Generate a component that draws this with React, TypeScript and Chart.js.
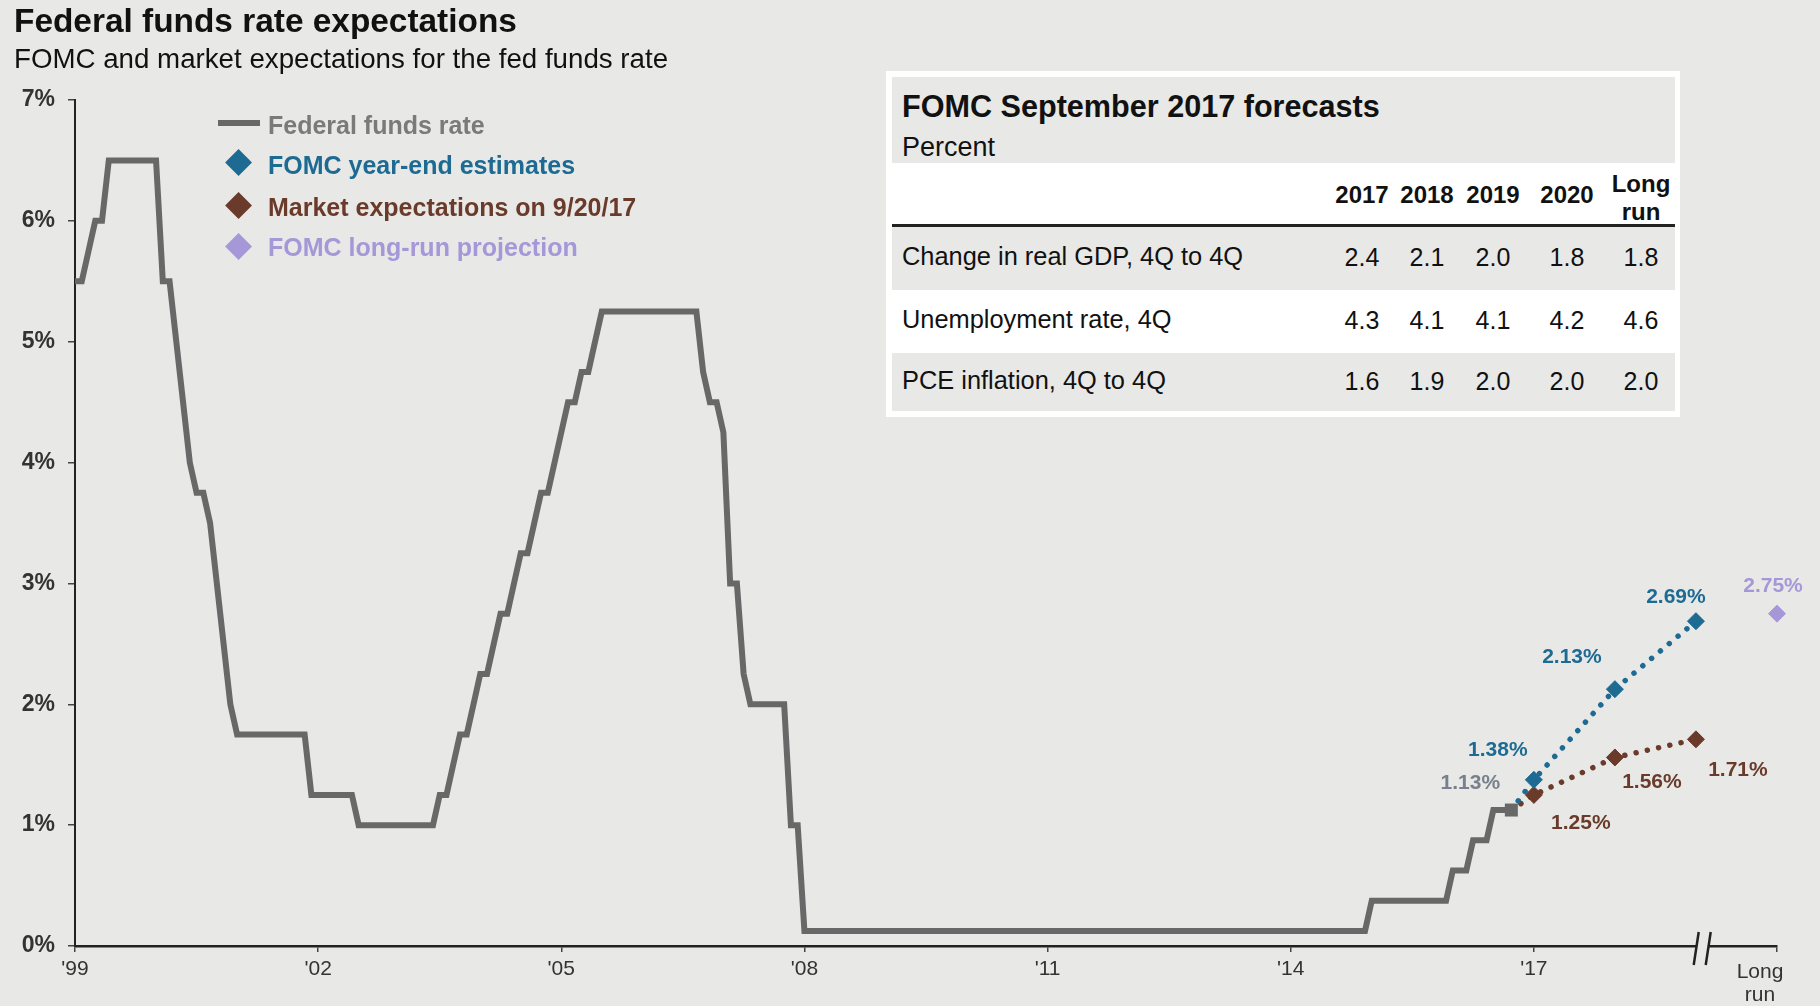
import React, { useEffect, useRef } from 'react';
import { Chart, registerables } from 'chart.js';

Chart.register(...registerables);

// ---------------- DATA ----------------
// Federal funds target rate (midpoint of range after Dec 2008), month-end observations
const ffrMonths = [
  '1999-12', '2000-01', '2000-02', '2000-03', '2000-04', '2000-05', '2000-12',
  '2001-01', '2001-02', '2001-03', '2001-04', '2001-05', '2001-06', '2001-07',
  '2001-08', '2001-09', '2001-10', '2001-11', '2001-12', '2002-10', '2002-11',
  '2003-05', '2003-06', '2004-05', '2004-06', '2004-07', '2004-08', '2004-09',
  '2004-10', '2004-11', '2004-12', '2005-01', '2005-02', '2005-03', '2005-04',
  '2005-05', '2005-06', '2005-07', '2005-08', '2005-09', '2005-10', '2005-11',
  '2005-12', '2006-01', '2006-02', '2006-03', '2006-04', '2006-05', '2006-06',
  '2007-08', '2007-09', '2007-10', '2007-11', '2007-12', '2008-01', '2008-02',
  '2008-03', '2008-04', '2008-09', '2008-10', '2008-11', '2008-12', '2015-11',
  '2015-12', '2016-11', '2016-12', '2017-02', '2017-03', '2017-05', '2017-06',
  '2017-09-20',
];
const ffrRates = [
  5.5, 5.5, 5.75, 6.0, 6.0, 6.5, 6.5,
  5.5, 5.5, 5.0, 4.5, 4.0, 3.75, 3.75,
  3.5, 3.0, 2.5, 2.0, 1.75, 1.75, 1.25,
  1.25, 1.0, 1.0, 1.25, 1.25, 1.5, 1.75,
  1.75, 2.0, 2.25, 2.25, 2.5, 2.75, 2.75,
  3.0, 3.25, 3.25, 3.5, 3.75, 3.75, 4.0,
  4.25, 4.5, 4.5, 4.75, 4.75, 5.0, 5.25,
  5.25, 4.75, 4.5, 4.5, 4.25, 3.0, 3.0,
  2.25, 2.0, 2.0, 1.0, 1.0, 0.125, 0.125,
  0.375, 0.375, 0.625, 0.625, 0.875, 0.875, 1.125,
  1.125,
];
const forecastMonths = ['2017-12', '2018-12', '2019-12'];
const fomcYearEnd = [1.375, 2.125, 2.6875];
const marketExpectations = [1.25, 1.56, 1.71];
const longRunMonth = '2020-12';
const fomcLongRun = 2.75;
const breakMonth = '2020-01';

const xTickMonths = ['1999-12', '2002-12', '2005-12', '2008-12', '2011-12', '2014-12', '2017-12', '2020-12'];
const xTickLabels = ["'99", "'02", "'05", "'08", "'11", "'14", "'17", 'Long run'];
const yMin = 0;
const yMax = 7;

const legendLabels = ['Federal funds rate', 'FOMC year-end estimates', 'Market expectations on 9/20/17', 'FOMC long-run projection'];

const tableColumns = ['2017', '2018', '2019', '2020', 'Long run'];
const tableRowLabels = ['Change in real GDP, 4Q to 4Q', 'Unemployment rate, 4Q', 'PCE inflation, 4Q to 4Q'];
const gdpChange = [2.4, 2.1, 2.0, 1.8, 1.8];
const unemploymentRate = [4.3, 4.1, 4.1, 4.2, 4.6];
const pceInflation = [1.6, 1.9, 2.0, 2.0, 2.0];

// ---------------- STYLE ----------------
const FONT = '"Liberation Sans", Arial, Helvetica, sans-serif';
const BG = '#e8e8e6';
const GRAY = '#686868';
const GRAY_TXT = '#7a7a7a';
const GRAY_LBL = '#77808c';
const BLUE = '#1d6b93';
const BROWN = '#6a3b2b';
const LAV = '#a597d8';
const AXIS = '#222';
const TICK_TXT = '#333';

const toX = (s: string) => {
  const [y, m, d] = s.split('-').map(Number);
  return y + (m - 1) / 12 + ((d === undefined ? 30 : d) / 30) / 12;
};

// label offsets (px) relative to marker centre
const fomcLabelOffsets = [[-36, -30], [-43, -32], [-20, -24]];
const marketLabelOffsets = [[47, 28], [37, 25], [42, 31]];
const longRunLabelOffset = [-4, -27];
const lastRateLabelOffset = [-41, -27];

const overlayPlugin = {
  id: 'overlay',
  afterDatasetsDraw(chart: any) {
    const { ctx } = chart;
    const xs = chart.scales.x;
    const ys = chart.scales.y;
    ctx.save();
    ctx.font = `bold 21px ${FONT}`;
    ctx.textAlign = 'center';
    ctx.textBaseline = 'middle';
    const lab = (xv: number, yv: number, off: number[], color: string) => {
      ctx.fillStyle = color;
      ctx.fillText(yv.toFixed(2) + '%', xs.getPixelForValue(xv) + off[0], ys.getPixelForValue(yv) + off[1]);
    };
    forecastMonths.forEach((m, i) => {
      lab(toX(m), fomcYearEnd[i], fomcLabelOffsets[i], BLUE);
      lab(toX(m), marketExpectations[i], marketLabelOffsets[i], BROWN);
    });
    lab(toX(longRunMonth), fomcLongRun, longRunLabelOffset, LAV);
    const li = ffrRates.length - 1;
    lab(toX(ffrMonths[li]), ffrRates[li], lastRateLabelOffset, GRAY_LBL);

    // axis break
    const bx = xs.getPixelForValue(toX(breakMonth));
    const by = ys.bottom;
    ctx.fillStyle = BG;
    ctx.fillRect(bx - 6, by - 3, 12, 6);
    ctx.strokeStyle = AXIS;
    ctx.lineWidth = 2.5;
    ctx.beginPath();
    ctx.moveTo(bx - 4, by - 14);
    ctx.lineTo(bx - 9, by + 19);
    ctx.moveTo(bx + 8, by - 14);
    ctx.lineTo(bx + 3, by + 19);
    ctx.stroke();

    // "Long run" axis label (two lines, set slightly left of its tick)
    ctx.font = `21px ${FONT}`;
    ctx.fillStyle = TICK_TXT;
    ctx.textBaseline = 'alphabetic';
    const lx = xs.getPixelForValue(toX(longRunMonth)) - 17;
    const parts = xTickLabels[xTickLabels.length - 1].split(' ');
    ctx.fillText(parts[0], lx, 978);
    ctx.fillText(parts[1], lx, 1001);
    ctx.restore();
  },
};

function T(props: { x: number; b: number; size: number; bold?: boolean; color?: string; center?: boolean; children: any }) {
  const { x, b, size, bold, color, center, children } = props;
  return (
    <div
      style={{
        position: 'absolute',
        left: x,
        top: b - 0.8465 * size,
        fontSize: size,
        lineHeight: `${size}px`,
        fontWeight: bold ? 700 : 400,
        color: color || '#111',
        whiteSpace: 'nowrap',
        fontFamily: FONT,
        transform: center ? 'translateX(-50%)' : undefined,
      }}
    >
      {children}
    </div>
  );
}

function Diamond(props: { cx: number; cy: number; w: number; color: string }) {
  const s = props.w / Math.SQRT2;
  return (
    <div
      style={{
        position: 'absolute',
        left: props.cx - s / 2,
        top: props.cy - s / 2,
        width: s,
        height: s,
        background: props.color,
        transform: 'rotate(45deg)',
      }}
    />
  );
}

export default function App() {
  const canvasRef = useRef<HTMLCanvasElement | null>(null);

  useEffect(() => {
    document.body.style.margin = '0';
    document.body.style.background = BG;
    const canvas = canvasRef.current;
    if (!canvas) return;
    const li = ffrRates.length - 1;
    const start = { x: toX(ffrMonths[li]), y: ffrRates[li] };
    const chart = new Chart(canvas, {
      type: 'line',
      data: {
        datasets: [
          {
            label: legendLabels[0],
            data: ffrMonths.map((m, i) => ({ x: toX(m), y: ffrRates[i] })),
            borderColor: GRAY,
            backgroundColor: GRAY,
            borderWidth: 6,
            tension: 0,
            pointStyle: 'rect',
            pointRadius: (c: any) => (c.dataIndex === li ? 9.2 : 0),
            pointBorderWidth: 0,
            pointBackgroundColor: GRAY,
            clip: false,
          },
          {
            label: legendLabels[1],
            data: [start, ...forecastMonths.map((m, i) => ({ x: toX(m), y: fomcYearEnd[i] }))],
            borderColor: BLUE,
            backgroundColor: BLUE,
            borderWidth: 5.5,
            borderDash: [0.01, 11.5],
            borderCapStyle: 'round',
            tension: 0,
            pointStyle: 'rectRot',
            pointRadius: [0, 8.5, 8.5, 8.5],
            pointBorderWidth: 1,
            pointBackgroundColor: BLUE,
            pointBorderColor: BLUE,
            clip: false,
          },
          {
            label: legendLabels[2],
            data: [start, ...forecastMonths.map((m, i) => ({ x: toX(m), y: marketExpectations[i] }))],
            borderColor: BROWN,
            backgroundColor: BROWN,
            borderWidth: 5.5,
            borderDash: [0.01, 11.5],
            borderCapStyle: 'round',
            tension: 0,
            pointStyle: 'rectRot',
            pointRadius: [0, 8.5, 8.5, 8.5],
            pointBorderWidth: 1,
            pointBackgroundColor: BROWN,
            pointBorderColor: BROWN,
            clip: false,
          },
          {
            label: legendLabels[3],
            data: [{ x: toX(longRunMonth), y: fomcLongRun }],
            showLine: false,
            borderColor: LAV,
            backgroundColor: LAV,
            pointStyle: 'rectRot',
            pointRadius: 8.5,
            pointBorderWidth: 1,
            pointBackgroundColor: LAV,
            pointBorderColor: LAV,
            clip: false,
          },
        ],
      },
      options: {
        animation: false,
        responsive: false,
        devicePixelRatio: 1,
        layout: { padding: { left: 0, top: 100, right: 43, bottom: 0 } },
        plugins: { legend: { display: false }, tooltip: { enabled: false } },
        scales: {
          x: {
            type: 'linear',
            min: toX(xTickMonths[0]),
            max: toX(xTickMonths[xTickMonths.length - 1]),
            afterBuildTicks: (scale: any) => {
              scale.ticks = xTickMonths.map((m) => ({ value: toX(m) }));
            },
            afterFit: (scale: any) => {
              scale.height = 60;
            },
            ticks: {
              autoSkip: false,
              maxRotation: 0,
              padding: 5,
              color: TICK_TXT,
              font: { family: FONT, size: 21 },
              callback: (v: any) => {
                const i = xTickMonths.findIndex((m) => Math.abs(toX(m) - v) < 1e-6);
                return i >= 0 && i < xTickLabels.length - 1 ? xTickLabels[i] : '';
              },
            },
            grid: { drawOnChartArea: false, drawTicks: true, tickLength: 6, color: '#444', lineWidth: 1.5 },
            border: { display: true, color: AXIS, width: 2.5 },
          },
          y: {
            min: yMin,
            max: yMax,
            afterFit: (scale: any) => {
              scale.width = 75;
            },
            ticks: {
              stepSize: 1,
              padding: 13,
              color: TICK_TXT,
              font: { family: FONT, size: 23, weight: 'bold' },
              callback: (v: any) => v + '%',
            },
            grid: { drawOnChartArea: false, drawTicks: true, tickLength: 7, color: '#444', lineWidth: 1.5 },
            border: { display: true, color: AXIS, width: 2 },
          },
        },
      } as any,
      plugins: [overlayPlugin],
    });
    return () => chart.destroy();
  }, []);

  const colCenters = [1362, 1427, 1493, 1567, 1641];
  const rowBaselines = [266, 329, 390];
  const rowValues = [gdpChange, unemploymentRate, pceInflation];

  return (
    <div style={{ position: 'relative', width: 1820, height: 1006, background: BG, overflow: 'hidden', fontFamily: FONT }}>
      <canvas ref={canvasRef} width={1820} height={1006} style={{ position: 'absolute', left: 0, top: 0, width: 1820, height: 1006 }} />

      {/* titles */}
      <T x={14} b={32} size={33.4} bold color="#111">Federal funds rate expectations</T>
      <T x={14} b={68} size={27.7} color="#111">FOMC and market expectations for the fed funds rate</T>

      {/* legend */}
      <div style={{ position: 'absolute', left: 218, top: 120, width: 42, height: 6, background: GRAY }} />
      <Diamond cx={239} cy={163} w={27} color={BLUE} />
      <Diamond cx={239} cy={206} w={27} color={BROWN} />
      <Diamond cx={239} cy={247} w={27} color={LAV} />
      <T x={268} b={134} size={25} bold color={GRAY_TXT}>{legendLabels[0]}</T>
      <T x={268} b={174} size={25} bold color={BLUE}>{legendLabels[1]}</T>
      <T x={268} b={216} size={25} bold color={BROWN}>{legendLabels[2]}</T>
      <T x={268} b={256} size={25} bold color={LAV}>{legendLabels[3]}</T>

      {/* forecast table */}
      <div style={{ position: 'absolute', left: 886, top: 71, width: 794, height: 346, background: '#ffffff' }} />
      <div style={{ position: 'absolute', left: 892, top: 77, width: 783, height: 86, background: BG }} />
      <div style={{ position: 'absolute', left: 892, top: 224, width: 783, height: 3, background: '#222' }} />
      <div style={{ position: 'absolute', left: 892, top: 227, width: 783, height: 63, background: BG }} />
      <div style={{ position: 'absolute', left: 892, top: 353, width: 783, height: 58, background: BG }} />
      <T x={902} b={117} size={30.6} bold>FOMC September 2017 forecasts</T>
      <T x={902} b={157} size={27}>Percent</T>
      {tableColumns.map((c, i) =>
        c.indexOf(' ') >= 0 ? (
          <React.Fragment key={c}>
            <T x={colCenters[i]} b={192} size={24} bold center>{c.split(' ')[0]}</T>
            <T x={colCenters[i]} b={220} size={24} bold center>{c.split(' ')[1]}</T>
          </React.Fragment>
        ) : (
          <T key={c} x={colCenters[i]} b={203} size={24} bold center>{c}</T>
        )
      )}
      {tableRowLabels.map((r, ri) => (
        <React.Fragment key={r}>
          <T x={902} b={rowBaselines[ri]} size={25.4}>{r}</T>
          {rowValues[ri].map((v, ci) => (
            <T key={ci} x={colCenters[ci]} b={rowBaselines[ri]} size={25} center>{v.toFixed(1)}</T>
          ))}
        </React.Fragment>
      ))}
    </div>
  );
}
